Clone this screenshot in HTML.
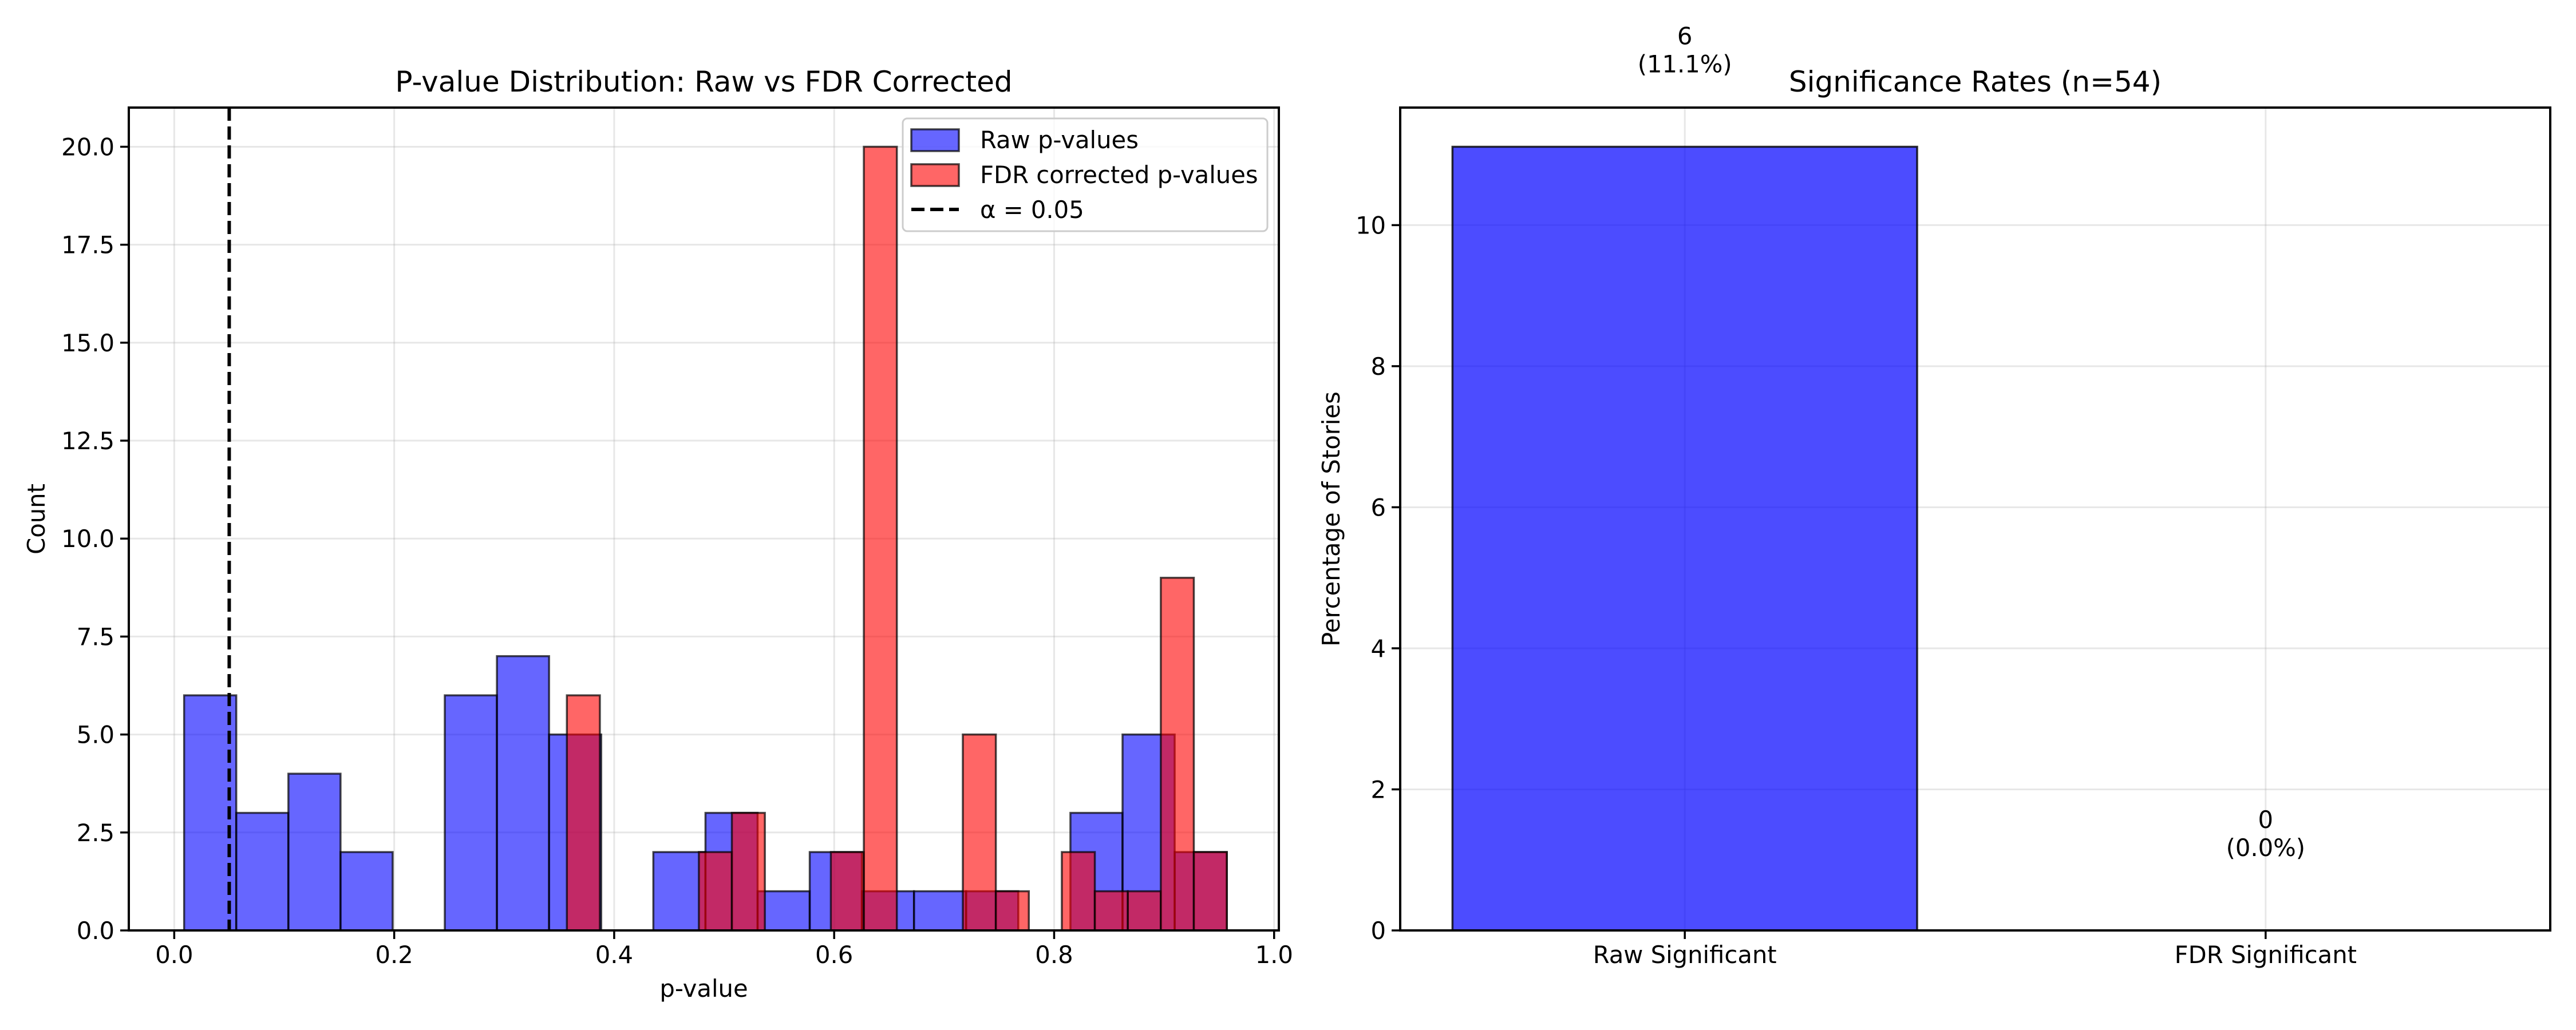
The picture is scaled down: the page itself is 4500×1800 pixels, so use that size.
<!DOCTYPE html>
<html><head><meta charset="utf-8"><style>
html,body{margin:0;padding:0;background:#fff}
svg{display:block;font-family:"DejaVu Sans","Liberation Sans",sans-serif}
</style></head><body>
<svg id="chart" width="4500" height="1800" viewBox="0 0 4500 1800" xmlns="http://www.w3.org/2000/svg">
<g id="left"></g>
<g id="right"></g>
</svg>
<script>
// ---- data ----
const rawBinStart = 0.009;
const rawBinWidth = 0.0474;
const rawCounts = [6,3,4,2,0,6,7,5,0,2,3,1,2,1,1,1,0,3,5,2];
const fdrBinStart = 0.357;
const fdrBinWidth = 0.0300;
const fdrCounts = [6,0,0,0,2,3,0,0,2,20,0,0,5,1,0,2,1,1,9,2];
const alphaLevel = 0.05;
const xTicks = [0.0,0.2,0.4,0.6,0.8,1.0];
const xTickLabels = ["0.0","0.2","0.4","0.6","0.8","1.0"];
const yTicks = [0,2.5,5,7.5,10,12.5,15,17.5,20];
const yTickLabels = ["0.0","2.5","5.0","7.5","10.0","12.5","15.0","17.5","20.0"];
const sigCategories = ["Raw Significant","FDR Significant"];
const sigCounts = [6,0];
const sigPercents = [11.1111,0];
const sigTickValues = [0,2,4,6,8,10];
const sigTickLabels = ["0","2","4","6","8","10"];

const NS="http://www.w3.org/2000/svg";
function mk(parent,tag,attrs,text){const e=document.createElementNS(NS,tag);for(const k in attrs)e.setAttribute(k,attrs[k]);if(text!==undefined)e.textContent=text;parent.appendChild(e);return e;}

// ---- left panel ----
const L=document.getElementById('left');
const lx0=225,lx1=2234,ly0=188,ly1=1626;
const xmin=-0.0413,xmax=1.0043,ymax=21.0;
const X=v=>lx0+(v-xmin)/(xmax-xmin)*(lx1-lx0);
const Y=v=>ly1-v/ymax*(ly1-ly0);
xTicks.forEach(t=>{const g=mk(L,'line',{x1:X(t),x2:X(t),y1:ly0,y2:ly1,stroke:'#b0b0b0','stroke-opacity':0.3,'stroke-width':3});
});
yTicks.forEach(t=>{const g=mk(L,'line',{x1:lx0,x2:lx1,y1:Y(t),y2:Y(t),stroke:'#b0b0b0','stroke-opacity':0.3,'stroke-width':3});
});
rawCounts.forEach((c,i)=>{if(!c)return;const a=rawBinStart+i*rawBinWidth;
const r=mk(L,'rect',{x:X(a),y:Y(c),width:X(a+rawBinWidth)-X(a),height:Y(0)-Y(c),fill:'#0000ff','fill-opacity':0.6,stroke:'#000','stroke-opacity':0.7,'stroke-width':3.5});
});
fdrCounts.forEach((c,i)=>{if(!c)return;const a=fdrBinStart+i*fdrBinWidth;
const r=mk(L,'rect',{x:X(a),y:Y(c),width:X(a+fdrBinWidth)-X(a),height:Y(0)-Y(c),fill:'#ff0000','fill-opacity':0.6,stroke:'#000','stroke-opacity':0.7,'stroke-width':3.5});
});
const al=mk(L,'line',{x1:X(alphaLevel),x2:X(alphaLevel),y1:ly0,y2:ly1,stroke:'#000','stroke-width':6,'stroke-dasharray':'23 10'});

mk(L,'rect',{x:lx0,y:ly0,width:lx1-lx0,height:ly1-ly0,fill:'none',stroke:'#000','stroke-width':4,});
xTicks.forEach((t,i)=>{const l=mk(L,'line',{x1:X(t),x2:X(t),y1:ly1,y2:ly1+15,stroke:'#000','stroke-width':3.5});

const tx=mk(L,'text',{x:X(t),y:ly1+57,'font-size':41.7,'text-anchor':'middle'},xTickLabels[i]);
});
yTicks.forEach((t,i)=>{const l=mk(L,'line',{x1:lx0-15,x2:lx0,y1:Y(t),y2:Y(t),stroke:'#000','stroke-width':3.5});

const tx=mk(L,'text',{x:lx0-25,y:Y(t)+15,'font-size':41.7,'text-anchor':'end'},yTickLabels[i]);
});
mk(L,'text',{x:(lx0+lx1)/2,y:1742,'font-size':41.7,'text-anchor':'middle',},'p-value');
mk(L,'text',{x:78,y:(ly0+ly1)/2,'font-size':41.7,'text-anchor':'middle',transform:`rotate(-90 78 ${(ly0+ly1)/2})`,},'Count');
mk(L,'text',{x:(lx0+lx1)/2,y:160,'font-size':50,'text-anchor':'middle',},'P-value Distribution: Raw vs FDR Corrected');
// legend
const lg=mk(L,'g',{});
mk(lg,'rect',{x:1577,y:207,width:637,height:197,rx:8,fill:'#fff','fill-opacity':0.8,stroke:'#cccccc','stroke-width':3});
mk(lg,'rect',{x:1592,y:226,width:83,height:38,fill:'#0000ff','fill-opacity':0.6,stroke:'#000','stroke-opacity':0.7,'stroke-width':3.5,});
mk(lg,'text',{x:1712,y:259,'font-size':41.7,},'Raw p-values');
mk(lg,'rect',{x:1592,y:287,width:83,height:38,fill:'#ff0000','fill-opacity':0.6,stroke:'#000','stroke-opacity':0.7,'stroke-width':3.5,});
mk(lg,'text',{x:1712,y:320,'font-size':41.7,},'FDR corrected p-values');
mk(lg,'line',{x1:1592,x2:1675,y1:366,y2:366,stroke:'#000','stroke-width':6,'stroke-dasharray':'23 10',});
mk(lg,'text',{x:1712,y:381,'font-size':41.7,},'α = 0.05');

// ---- right panel ----
const R=document.getElementById('right');
const rx0=2446,rx1=4455,ry0=188,ry1=1626;
const cxmin=-0.49,cxmax=1.49;
const CX=v=>rx0+(v-cxmin)/(cxmax-cxmin)*(rx1-rx0);
const pmax=Math.max(...sigPercents)*1.05||1;
const PY=v=>ry1-v/pmax*(ry1-ry0);
sigCategories.forEach((c,i)=>{const g=mk(R,'line',{x1:CX(i),x2:CX(i),y1:ry0,y2:ry1,stroke:'#b0b0b0','stroke-opacity':0.3,'stroke-width':3});
});
sigTickValues.forEach(t=>{const g=mk(R,'line',{x1:rx0,x2:rx1,y1:PY(t),y2:PY(t),stroke:'#b0b0b0','stroke-opacity':0.3,'stroke-width':3});
});
const barColors=['#0000ff','#ff0000'];
sigPercents.forEach((p,i)=>{
const r=mk(R,'rect',{x:CX(i-0.4),y:PY(p),width:CX(i+0.4)-CX(i-0.4),height:PY(0)-PY(p),fill:barColors[i],'fill-opacity':0.7,stroke:'#000','stroke-opacity':0.8,'stroke-width':3.5});

const t1=mk(R,'text',{x:CX(i),y:PY(p)-179,'font-size':41.7,'text-anchor':'middle'},String(sigCounts[i]));

const t2=mk(R,'text',{x:CX(i),y:PY(p)-130,'font-size':41.7,'text-anchor':'middle'},'('+p.toFixed(1)+'%)');

});
mk(R,'text',{x:(rx0+rx1)/2,y:160,'font-size':50,'text-anchor':'middle',},'Significance Rates (n=54)');
mk(R,'rect',{x:rx0,y:ry0,width:rx1-rx0,height:ry1-ry0,fill:'none',stroke:'#000','stroke-width':4,});
sigCategories.forEach((c,i)=>{const l=mk(R,'line',{x1:CX(i),x2:CX(i),y1:ry1,y2:ry1+15,stroke:'#000','stroke-width':3.5});

const tx=mk(R,'text',{x:CX(i),y:ry1+57,'font-size':41.7,'text-anchor':'middle'},c);
});
sigTickValues.forEach((t,i)=>{const l=mk(R,'line',{x1:rx0-15,x2:rx0,y1:PY(t),y2:PY(t),stroke:'#000','stroke-width':3.5});

const tx=mk(R,'text',{x:rx0-25,y:PY(t)+15,'font-size':41.7,'text-anchor':'end'},sigTickLabels[i]);
});
mk(R,'text',{x:2340,y:(ry0+ry1)/2,'font-size':41.7,'text-anchor':'middle',transform:`rotate(-90 2340 ${(ry0+ry1)/2})`,},'Percentage of Stories');
</script>
</body></html>
